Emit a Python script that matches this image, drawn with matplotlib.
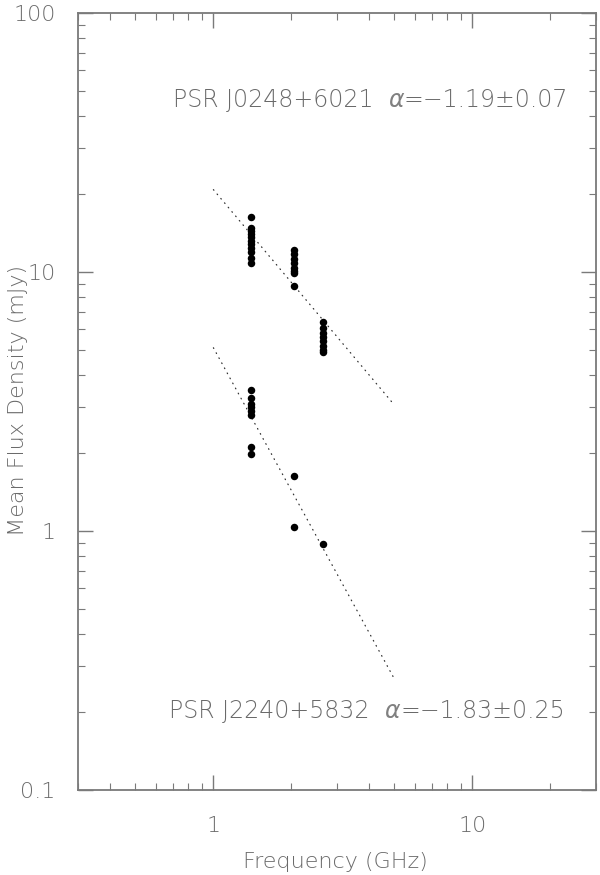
import numpy as np
import matplotlib
matplotlib.use("Agg")
import matplotlib.pyplot as plt
from matplotlib.ticker import FixedLocator, LogLocator, NullFormatter

# ---- data ----
psr1_name = "PSR J0248+6021"
psr1_freq = [1.4] * 11 + [2.05] * 8 + [2.65] * 8
psr1_flux = [16.3, 14.8, 14.4, 14.0, 13.6, 13.2, 12.8, 12.4, 12.0, 11.3, 10.8,
             12.2, 11.7, 11.2, 10.8, 10.4, 10.1, 9.9, 8.8,
             6.4, 6.1, 5.8, 5.6, 5.4, 5.2, 5.0, 4.9]
psr1_alpha, psr1_err, psr1_amp = -1.19, 0.07, 20.8

psr2_name = "PSR J2240+5832"
psr2_freq = [1.4] * 8 + [2.05] * 2 + [2.65]
psr2_flux = [3.5, 3.25, 3.1, 3.0, 2.9, 2.8, 2.12, 1.98,
             1.63, 1.04,
             0.89]
psr2_alpha, psr2_err, psr2_amp = -1.83, 0.25, 5.1

fit_range = [1.0, 5.0]
xticks = [1, 10]
xticklabels = ["1", "10"]
yticks = [0.1, 1, 10, 100]
yticklabels = ["0.1", "1", "10", "100"]
xlabel = "Frequency (GHz)"
ylabel = "Mean Flux Density (mJy)"

# ---- style ----
txt_color = "#6a6a6a"
ax_color = "#7a7a7a"
plt.rcParams['font.family'] = ['DejaVu Sans']
plt.rcParams['font.weight'] = 'light'

fig = plt.figure(figsize=(6.0, 8.75), dpi=100)
ax = fig.add_axes([0.13, 0.0971, 0.8633, 0.888])
ax.set_xscale('log')
ax.set_yscale('log')
ax.set_xlim(0.3, 30)
ax.set_ylim(0.1, 100)

fx = np.array(fit_range)
for amp, alpha in [(psr1_amp, psr1_alpha), (psr2_amp, psr2_alpha)]:
    fgrid = np.logspace(np.log10(fx[0]), np.log10(fx[1]), 200)
    ax.plot(fgrid, amp * fgrid ** alpha, color="#333333", lw=0.9,
            linestyle=(0, (0.6, 4.0)), dash_capstyle='round')

ax.plot(psr1_freq, psr1_flux, 'o', color='black', ms=5.4, mec='black', mew=0)
ax.plot(psr2_freq, psr2_flux, 'o', color='black', ms=5.4, mec='black', mew=0)

fs = 16
fa = 17


def label_with_alpha(xf, yf, name, alpha, err):
    t1 = ax.text(xf, yf, name + "  ", transform=ax.transAxes, fontsize=fa,
                 color=txt_color, va='bottom', ha='left')
    t2 = ax.annotate("\u03b1", xy=(1, 0), xycoords=t1, fontsize=fa,
                     color="#808080", va='bottom', ha='left', style='italic')
    ax.annotate("=\u2212" + f"{abs(alpha):.2f}\u00b1{err:.2f}", xy=(1, 0),
                xycoords=t2, fontsize=fa, color=txt_color, va='bottom', ha='left')


label_with_alpha(0.183, 0.872, psr1_name, psr1_alpha, psr1_err)
label_with_alpha(0.176, 0.086, psr2_name, psr2_alpha, psr2_err)

# ticks
ax.xaxis.set_major_locator(FixedLocator(xticks))
ax.set_xticklabels(xticklabels)
ax.xaxis.set_minor_locator(LogLocator(base=10, subs=np.arange(2, 10)))
ax.xaxis.set_minor_formatter(NullFormatter())
ax.yaxis.set_major_locator(FixedLocator(yticks))
ax.set_yticklabels(yticklabels)
ax.yaxis.set_minor_locator(LogLocator(base=10, subs=np.arange(2, 10)))
ax.yaxis.set_minor_formatter(NullFormatter())

ax.tick_params(which='both', direction='in', top=True, right=True,
               color=ax_color, labelcolor=txt_color, labelsize=fs)
ax.tick_params(which='major', length=11, width=1.0)
ax.tick_params(which='minor', length=5, width=0.8)
ax.tick_params(axis='x', which='major', pad=19)
ax.tick_params(axis='y', which='major', pad=16)

for sp in ax.spines.values():
    sp.set_color(ax_color)
    sp.set_linewidth(1.3)

fig.text(335 / 600, 1 - 862 / 875, xlabel, fontsize=fs, color=txt_color,
         ha='center', va='center')
fig.text(18 / 600, 1 - 400 / 875, ylabel, fontsize=fs, color=txt_color,
         ha='center', va='center', rotation=90)

fig.savefig("out.png", dpi=100, facecolor='white')
